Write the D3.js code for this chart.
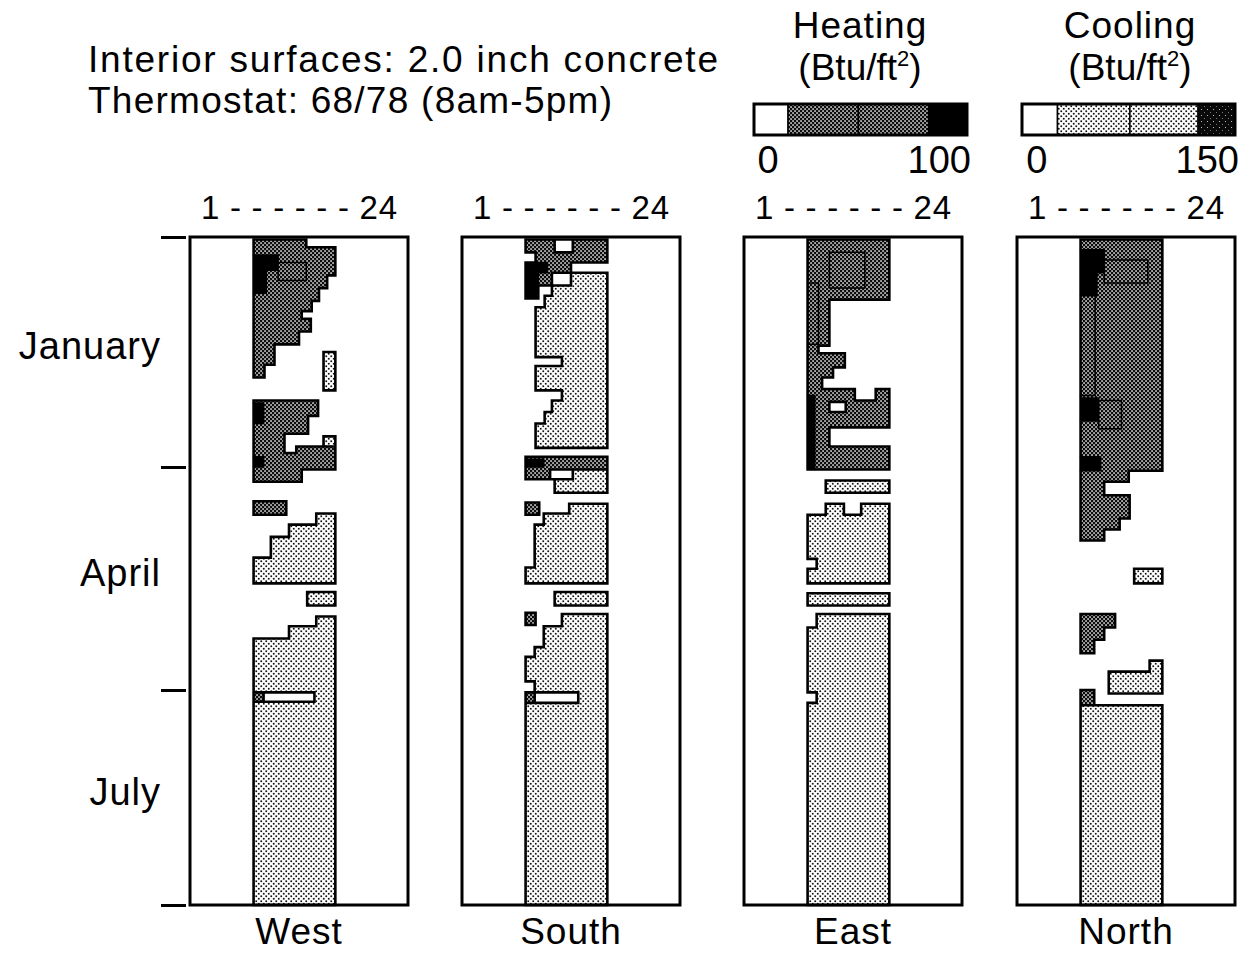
<!DOCTYPE html>
<html>
<head>
<meta charset="utf-8">
<script src="https://cdn.jsdelivr.net/npm/d3@7"></script>
<style>
  body { margin: 0; background: #fff; }
  text { font-family: "Liberation Sans", Arial, Helvetica, sans-serif; fill: #000; }
</style>
</head>
<body>
<div id="chart"></div>
<script>
// load classes: 1-4 heating bins, 5-8 cooling bins (0 = no load)
// rows are [first day, last day, first hour, last hour, class]

var titleLines = ["Interior surfaces: 2.0 inch concrete", "Thermostat: 68/78 (8am-5pm)"];
var months = ["January", "April", "July"];
var monthStart = [0, 90, 181];
var lastDay = 273;
var panels = ["West", "South", "East", "North"];
var heatBreaks = [0, 16, 49, 82, 100];
var coolBreaks = [0, 25, 76, 124, 150];
var heatClasses = [1, 2, 3, 4];
var coolClasses = [5, 6, 7, 8];

var west = [
  [1, 4, 7, 12.8, 2], [4, 15, 7, 16, 2], [15, 20, 7, 15.1, 2], [20, 25, 7, 14.2, 2],
  [25, 29, 7, 13.4, 2], [29, 32, 7, 12.3, 2], [32, 37, 7, 13.3, 2], [37, 42, 7, 12.0, 2],
  [42, 50, 7, 9.3, 2], [50, 55, 7, 8.2, 2],
  [10, 17, 9.7, 12.8, 3], [7, 13, 7, 9.7, 4], [13, 22, 7, 8.4, 4],
  [45, 60, 14.7, 16, 6],
  [64, 70, 7, 14.1, 2], [70, 77, 7, 13.0, 2], [77, 84.5, 7, 10.4, 2],
  [78, 82, 14.7, 16, 6], [82, 84.5, 11.7, 16, 2], [84.5, 91, 7, 16, 2], [91, 96, 7, 12.3, 2],
  [65, 73, 7, 8.1, 4], [86, 90, 7, 8.1, 4],
  [104, 109.5, 7, 10.6, 2],
  [109, 113.5, 13.9, 16, 6], [113.5, 118.5, 10.9, 16, 6], [118.5, 127, 8.9, 16, 6], [127, 137.5, 7, 16, 6],
  [141, 146.5, 12.9, 16, 6],
  [151, 155, 13.9, 16, 6], [155, 160, 10.9, 16, 6], [160, 273, 7, 16, 6],
  [182, 186, 8.1, 13.7, 5], [182, 186, 7, 8.1, 2]
];

var south = [
  [1, 6, 7, 10.2, 2], [1, 6, 10.2, 12.2, 1], [1, 6, 12.2, 16, 2],
  [6, 10, 8.1, 16, 2], [10, 14, 7, 12.0, 2], [10, 14, 7, 9.4, 4],
  [14, 19, 7, 8.4, 4], [14, 19, 8.4, 9.9, 2], [14, 19, 9.9, 12.0, 1], [19, 24, 7, 8.4, 4],
  [14, 19, 12.0, 16, 6], [19, 23, 9.9, 16, 6], [23, 27.5, 9.1, 16, 6], [27.5, 47, 8.1, 16, 6],
  [47, 50.5, 11.0, 16, 6], [50.5, 60, 8.1, 16, 6], [60, 64, 11.0, 16, 6], [64, 68.5, 9.9, 16, 6],
  [68.5, 73, 9.1, 16, 6], [73, 82.5, 8.1, 16, 6],
  [86, 91, 7, 16, 2], [87, 90, 7, 9, 4],
  [91, 95, 7, 9.7, 2], [91, 95, 9.7, 12.2, 1], [91, 95, 12.2, 16, 6], [95, 100.5, 10.2, 16, 6],
  [104.5, 109.5, 7, 8.5, 2],
  [105, 109, 11.8, 16, 6], [109, 113.5, 9.0, 16, 6], [113.5, 131, 8.0, 16, 6], [131, 137.5, 7, 16, 6],
  [141, 146.5, 10.2, 16, 6],
  [149.5, 154.5, 7, 8.1, 2],
  [150, 155, 11.0, 16, 6], [155, 163.5, 9.0, 16, 6], [163.5, 167.5, 8.0, 16, 6], [167.5, 177.5, 7, 16, 6],
  [177.5, 182, 8.0, 16, 6], [182, 273, 7, 16, 6],
  [182, 186.5, 8.0, 12.8, 5], [182, 186.5, 7, 8.0, 2]
];

var east = [
  [1, 24.5, 7, 16, 2], [24.5, 42.5, 7, 9.4, 2], [42.5, 45.5, 7, 8.2, 2], [45.5, 51, 7, 11.1, 2],
  [51, 55, 7, 9.8, 2], [55, 59.5, 7, 8.6, 2], [59.5, 64, 7, 12.2, 2], [59.5, 64, 14.5, 16, 2],
  [64, 74.5, 7, 16, 2], [74.5, 82, 7, 9.4, 2], [82, 91, 7, 16, 2],
  [64.5, 68.5, 9.4, 11.2, 1],
  [6, 20, 9.4, 13.3, 3], [18, 42, 7, 8.2, 3], [62, 91, 7, 7.8, 4],
  [95.5, 100.5, 9.0, 16, 6],
  [105, 109.5, 9.0, 11.0, 6], [105, 109.5, 12.9, 16, 6], [109.5, 127.5, 7, 16, 6],
  [127.5, 131.5, 8.0, 16, 6], [131.5, 137.5, 7, 16, 6],
  [141.5, 146.5, 7, 16, 6],
  [150, 155.5, 8.0, 16, 6], [155.5, 182, 7, 16, 6], [182, 186.5, 8.0, 16, 6], [186.5, 273, 7, 16, 6]
];

var north = [
  [1, 91.5, 7, 16, 2], [91.5, 96, 7, 12.3, 2], [96, 101.5, 7, 9.6, 2],
  [101.5, 111, 7, 12.4, 2], [111, 115.5, 7, 11.3, 2], [115.5, 120, 7, 9.6, 2],
  [9, 18, 9.6, 14.4, 3], [23, 62, 7, 8.6, 3], [64, 75, 9, 11.5, 3],
  [5, 14, 7, 9.6, 4], [14, 23, 7, 8.8, 4], [63, 72, 7, 9, 4], [86, 91.5, 7, 9.2, 4],
  [131.5, 137.5, 12.9, 16, 6],
  [150, 155.5, 7, 10.8, 2], [155.5, 160.5, 7, 9.6, 2], [160.5, 166, 7, 8.5, 2],
  [169, 173.5, 14.6, 16, 6], [173.5, 182.5, 10.1, 16, 6],
  [181, 187.5, 7, 8.5, 2],
  [187.5, 273, 7, 16, 6]
];

var panelData = [west, south, east, north];

// layout
var panelX = [190, 462, 744, 1017],
    boxW = 218;

var svg = d3.select("#chart")
  .append("svg")
    .attr("width", 1254)
    .attr("height", 953);

// patterns for the load bins
var defs = svg.append("defs");
var hmid = defs.append("pattern").attr("id", "hmid")
  .attr("patternUnits", "userSpaceOnUse").attr("width", 4).attr("height", 4);
hmid.append("rect").attr("width", 4).attr("height", 4).attr("fill", "#0d0d0d");
hmid.append("rect").attr("x", 0.3).attr("y", 0.3).attr("width", 1.5).attr("height", 1.5).attr("fill", "#fff");
hmid.append("rect").attr("x", 2.3).attr("y", 2.3).attr("width", 1.5).attr("height", 1.5).attr("fill", "#fff");

var cmid = defs.append("pattern").attr("id", "cmid")
  .attr("patternUnits", "userSpaceOnUse").attr("width", 5).attr("height", 5);
cmid.append("rect").attr("width", 5).attr("height", 5).attr("fill", "#fff");
cmid.append("rect").attr("x", 0.4).attr("y", 0.4).attr("width", 1.7).attr("height", 1.7).attr("fill", "#111");
cmid.append("rect").attr("x", 2.9).attr("y", 2.9).attr("width", 1.7).attr("height", 1.7).attr("fill", "#111");

var chigh = defs.append("pattern").attr("id", "chigh")
  .attr("patternUnits", "userSpaceOnUse").attr("width", 6).attr("height", 6);
chigh.append("rect").attr("width", 6).attr("height", 6).attr("fill", "#0a0a0a");
chigh.append("rect").attr("x", 1).attr("y", 1).attr("width", 1).attr("height", 1).attr("fill", "#bbb");
chigh.append("rect").attr("x", 4).attr("y", 4).attr("width", 1).attr("height", 1).attr("fill", "#777");

var fills = {1: "#fff", 2: "url(#hmid)", 3: "url(#hmid)", 4: "#000",
             5: "#fff", 6: "url(#cmid)", 7: "url(#cmid)", 8: "url(#chigh)"};

// scales
var y = d3.scaleLinear()
  .domain(monthStart.concat([lastDay]))
  .range([237, 467, 690, 905]);
var x = d3.scaleLinear().domain([0, 24]).range([0, boxW]);

// title
svg.selectAll("text.title")
  .data(titleLines)
  .enter().append("text")
    .attr("class", "title")
    .attr("x", 88)
    .attr("y", function(d, i) { return 72 + i * 41; })
    .attr("font-size", 37)
    .attr("textLength", function(d, i) { return i == 0 ? 630 : 524; })
    .attr("lengthAdjust", "spacing")
    .text(function(d) { return d; });

// month ticks and labels on the left
svg.append("g")
  .attr("transform", "translate(186,0)")
  .call(d3.axisLeft(y).tickValues(monthStart.concat([lastDay])).tickSize(25).tickFormat(""))
  .call(function(g) {
    g.select(".domain").remove();
    g.selectAll(".tick line").attr("stroke", "#000").attr("stroke-width", 3);
  });

svg.selectAll("text.month")
  .data(months)
  .enter().append("text")
    .attr("class", "month")
    .attr("x", 161)
    .attr("y", function(d, i) {
      var end = i < months.length - 1 ? monthStart[i + 1] : lastDay;
      return y((monthStart[i] + end) / 2) + 7;
    })
    .attr("text-anchor", "end")
    .attr("font-size", 38)
    .attr("letter-spacing", 1)
    .text(function(d) { return d; });

// outline of the load regions: edges between cells of different class
function outline(rects) {
  var R = lastDay * 2, C = 240, grid = [];
  for (var r = 0; r < R; r++) grid.push(new Array(C).fill(0));
  rects.forEach(function(d) {
    var r0 = Math.round(d[0] * 2), r1 = Math.round(d[1] * 2),
        c0 = Math.round(d[2] * 10), c1 = Math.round(d[3] * 10);
    for (var r = r0; r < r1; r++)
      for (var c = c0; c < c1; c++) grid[r][c] = d[4];
  });
  function get(r, c) { return (r < 0 || r >= R || c < 0 || c >= C) ? 0 : grid[r][c]; }
  function kind(a, b) {
    if (a === b) return null;
    var fa = [2, 3, 4].indexOf(a) >= 0 ? "h" : [6, 7, 8].indexOf(a) >= 0 ? "c" : "x";
    var fb = [2, 3, 4].indexOf(b) >= 0 ? "h" : [6, 7, 8].indexOf(b) >= 0 ? "c" : "x";
    return (fa == fb && fa != "x") ? "i" : "o";
  }
  var out = {o: "", i: ""};
  for (var r = 0; r <= R; r++) {
    var k0 = null, s = 0;
    for (var c = 0; c <= C; c++) {
      var k = c < C ? kind(get(r - 1, c), get(r, c)) : null;
      if (k !== k0) {
        if (k0) out[k0] += "M" + x(s / 10) + "," + y(r / 2) + "H" + x(c / 10);
        k0 = k; s = c;
      }
    }
  }
  for (var c = 0; c <= C; c++) {
    var k0 = null, s = 0;
    for (var r = 0; r <= R; r++) {
      var k = r < R ? kind(get(r, c - 1), get(r, c)) : null;
      if (k !== k0) {
        if (k0) out[k0] += "M" + x(c / 10) + "," + y(s / 2) + "V" + y(r / 2);
        k0 = k; s = r;
      }
    }
  }
  return out;
}

panelData.forEach(function(rects, i) {
  var g = svg.append("g").attr("transform", "translate(" + panelX[i] + ",0)");

  g.selectAll("rect.load")
    .data(rects)
    .enter().append("rect")
      .attr("class", "load")
      .attr("x", function(d) { return x(d[2]); })
      .attr("y", function(d) { return y(d[0]); })
      .attr("width", function(d) { return x(d[3]) - x(d[2]); })
      .attr("height", function(d) { return y(d[1]) - y(d[0]); })
      .attr("fill", function(d) { return fills[d[4]]; })
      .attr("shape-rendering", "crispEdges");

  var edges = outline(rects);
  g.append("path").attr("d", edges.i).attr("fill", "none")
    .attr("stroke", "#000").attr("stroke-width", 1.5).attr("stroke-linecap", "square");
  g.append("path").attr("d", edges.o).attr("fill", "none")
    .attr("stroke", "#000").attr("stroke-width", 2.6).attr("stroke-linecap", "square");

  g.append("rect")
    .attr("x", 0).attr("y", y(0))
    .attr("width", boxW).attr("height", y(lastDay) - y(0))
    .attr("fill", "none").attr("stroke", "#000").attr("stroke-width", 3);

  g.append("text")
    .attr("x", boxW / 2).attr("y", 219)
    .attr("text-anchor", "middle")
    .attr("font-size", 33)
    .attr("textLength", 196).attr("lengthAdjust", "spacing")
    .text("1 - - - - - - 24");

  g.append("text")
    .attr("x", boxW / 2).attr("y", 944)
    .attr("text-anchor", "middle")
    .attr("font-size", 37)
    .attr("letter-spacing", 1)
    .text(panels[i]);
});

// legends
function drawLegend(cx, x0, x1, title, breaks, classes) {
  var lx = d3.scaleLinear().domain([breaks[0], breaks[breaks.length - 1]]).range([x0, x1]);
  var g = svg.append("g");
  g.append("text").attr("x", cx).attr("y", 38).attr("text-anchor", "middle")
    .attr("font-size", 37).attr("letter-spacing", 1).text(title);
  var unit = g.append("text").attr("x", cx).attr("y", 80).attr("text-anchor", "middle")
    .attr("font-size", 37);
  unit.append("tspan").text("(Btu/ft");
  unit.append("tspan").attr("dy", -14).attr("font-size", 22).text("2");
  unit.append("tspan").attr("dy", 14).text(")");

  var segs = classes.map(function(c, i) { return {c: c, a: breaks[i], b: breaks[i + 1]}; });
  g.selectAll("rect.seg")
    .data(segs)
    .enter().append("rect")
      .attr("x", function(d) { return lx(d.a); })
      .attr("y", 104)
      .attr("width", function(d) { return lx(d.b) - lx(d.a); })
      .attr("height", 31)
      .attr("fill", function(d) { return fills[d.c]; })
      .attr("stroke", "#000").attr("stroke-width", 1.5);
  g.append("rect").attr("x", x0).attr("y", 104).attr("width", x1 - x0).attr("height", 31)
    .attr("fill", "none").attr("stroke", "#000").attr("stroke-width", 3);

  g.append("text").attr("x", lx((breaks[0] + breaks[1]) / 2) - 3).attr("y", 173)
    .attr("text-anchor", "middle").attr("font-size", 38).text(breaks[0]);
  g.append("text").attr("x", x1 + 4).attr("y", 173)
    .attr("text-anchor", "end").attr("font-size", 38).text(breaks[breaks.length - 1]);
}

drawLegend(860, 754, 967, "Heating", heatBreaks, heatClasses);
drawLegend(1130, 1022, 1235, "Cooling", coolBreaks, coolClasses);
</script>
</body>
</html>
